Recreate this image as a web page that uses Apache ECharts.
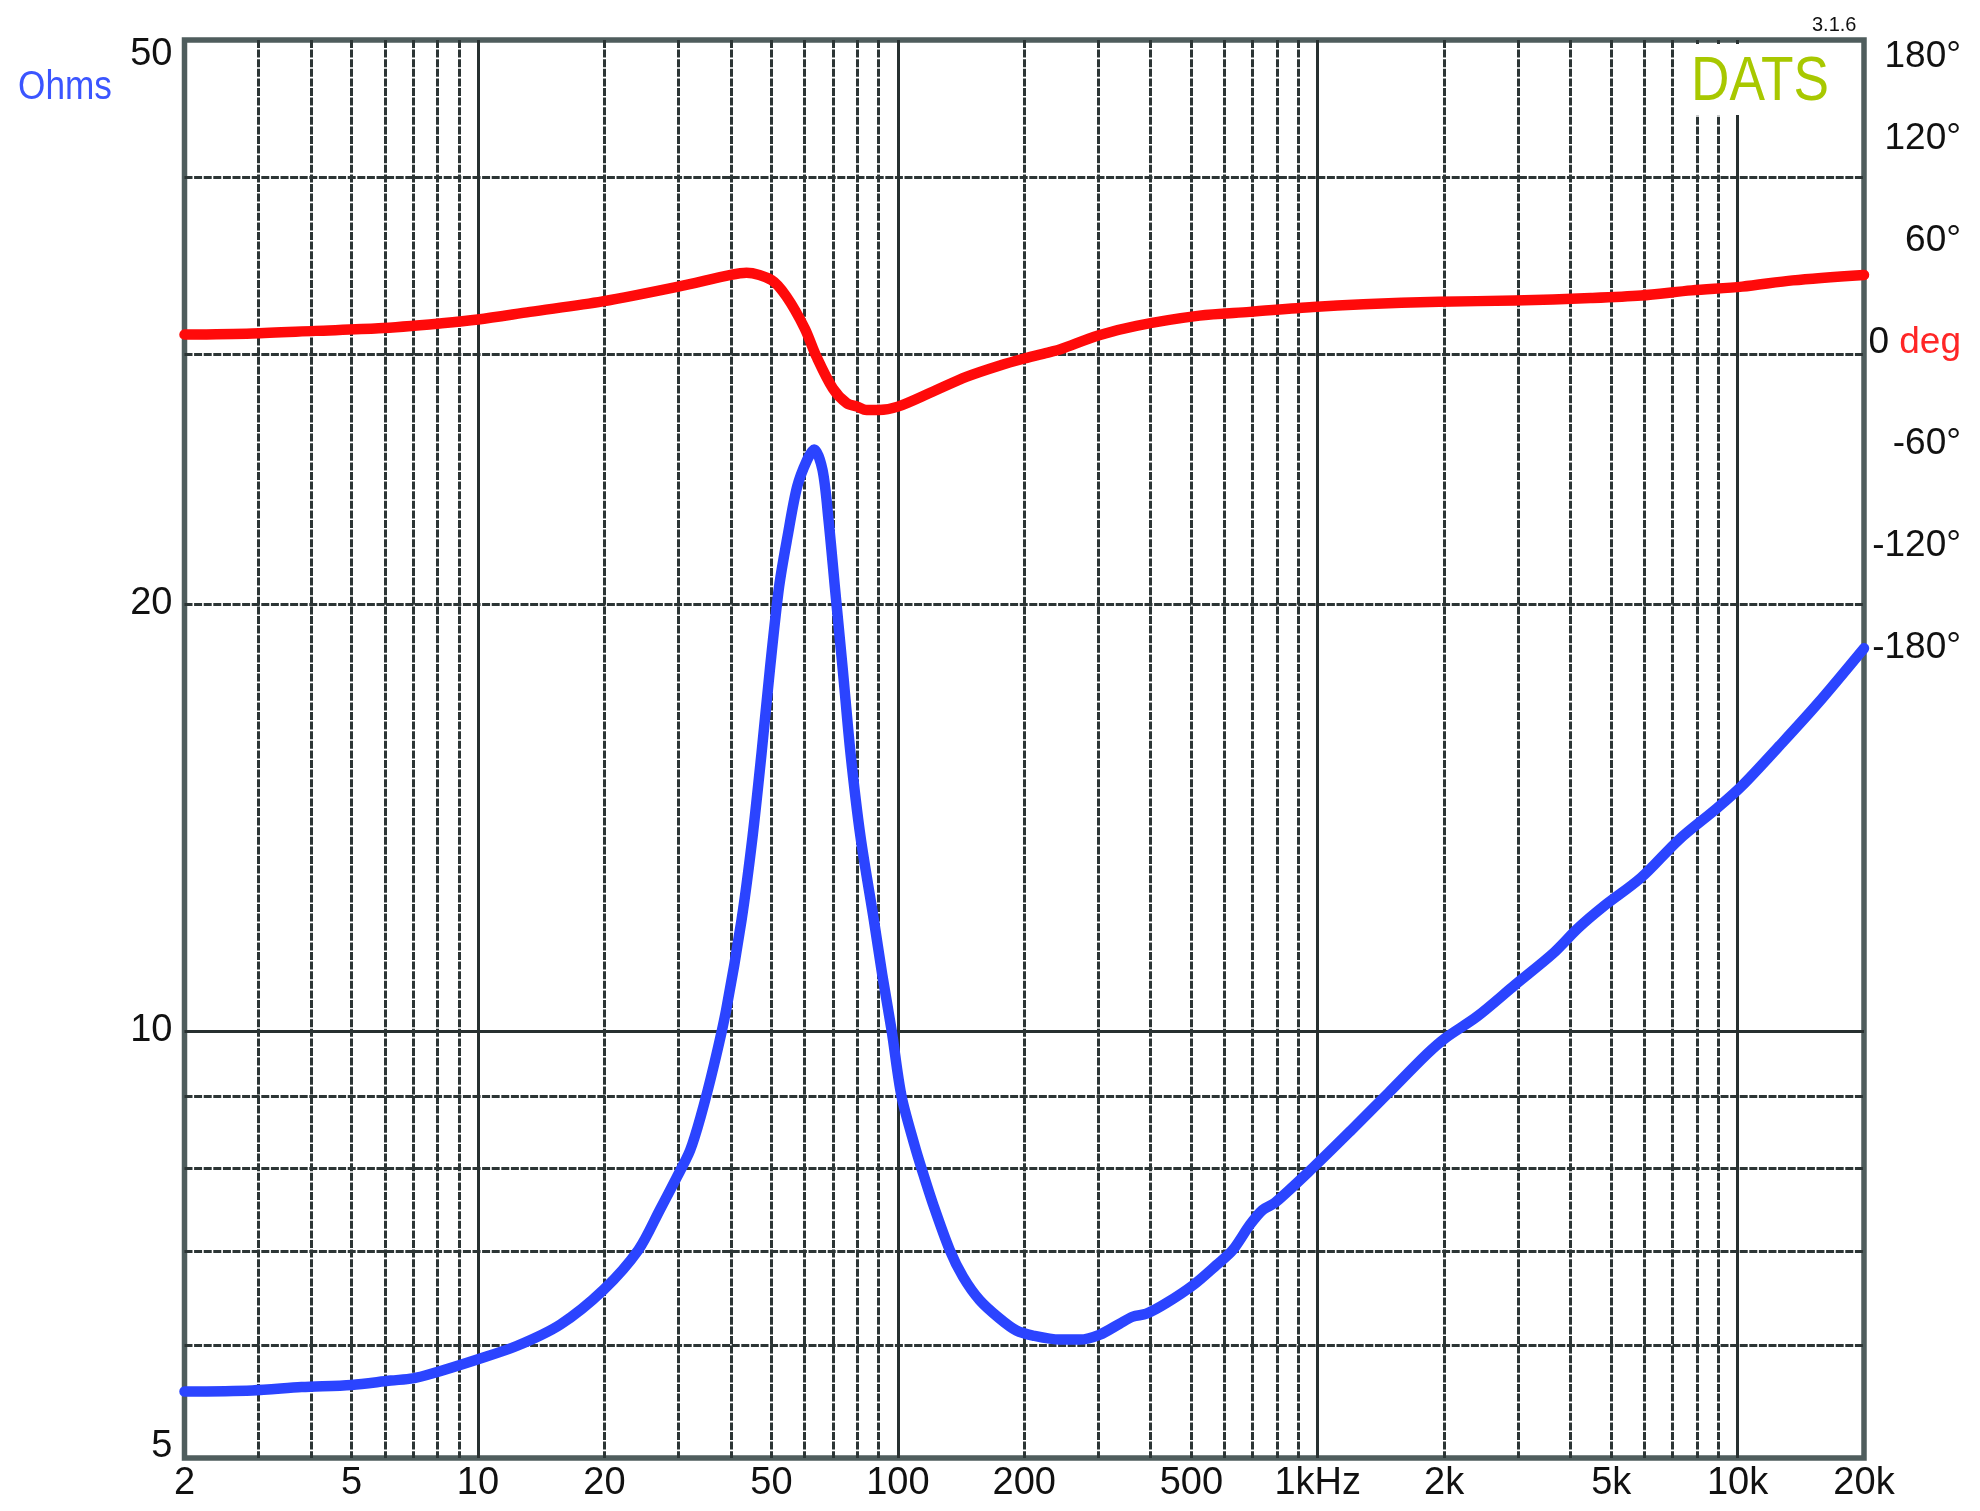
<!DOCTYPE html>
<html><head><meta charset="utf-8">
<script src="https://cdn.jsdelivr.net/npm/echarts@6/dist/echarts.min.js"></script>
<style>html,body{margin:0;padding:0;background:#fff}#c{width:1980px;height:1511px}</style>
</head><body><div id="c"></div>
<script>
// Impedance magnitude (Hz, Ohms)
const impFreq = [2, 2.9, 3.8, 5, 6.2, 7, 7.7, 10, 12.4, 15.7, 19.9, 24.1, 27.1, 29.7, 32, 33.9, 36.4, 39, 42.44, 45.07, 47.35, 49.55, 52.14, 54.6, 57.55, 60.79, 63.19, 66.16, 68.38, 70.78, 73.95, 77.14, 81.48, 87.66, 91.8, 96.7, 102, 109.7, 113.9, 121.3, 132.9, 143, 156.7, 174.9, 191.6, 209.8, 243, 271, 303, 338, 363, 391, 436, 505, 574, 628, 689, 739, 792, 974, 1200, 1476, 1817, 2015, 2396, 2950, 3630, 4169, 4786, 5891, 7254, 8929, 10258, 12620, 15535, 20000];
const impOhms = [5.57, 5.58, 5.61, 5.63, 5.67, 5.69, 5.73, 5.87, 6.00, 6.21, 6.57, 7.01, 7.48, 7.88, 8.24, 8.70, 9.44, 10.35, 11.98, 13.71, 15.70, 17.97, 20.58, 22.32, 24.20, 25.28, 25.72, 24.87, 22.93, 20.58, 17.97, 15.70, 13.71, 11.98, 10.96, 10.0, 9.0, 8.3, 8.0, 7.55, 7.01, 6.71, 6.46, 6.27, 6.15, 6.10, 6.06, 6.06, 6.11, 6.22, 6.29, 6.32, 6.43, 6.62, 6.84, 7.01, 7.30, 7.48, 7.57, 8.01, 8.51, 9.05, 9.63, 9.89, 10.24, 10.78, 11.34, 11.82, 12.24, 12.83, 13.65, 14.36, 14.90, 15.91, 17.03, 18.62];
// Impedance phase (Hz, degrees)
const phFreq = [2, 2.9, 4.1, 5.8, 8.2, 10, 13.3, 19.8, 30, 40, 43.6, 50, 54.3, 60, 64, 70, 75.6, 80, 84.2, 90, 100, 121, 146, 175, 200, 230, 244, 300, 370, 523, 689, 974, 1285, 1946, 2950, 4467, 5891, 7773, 10258, 13530, 20000];
const phDeg = [2.3, 3.0, 4.5, 6.0, 9.0, 11.2, 15.7, 21.9, 30.6, 37.5, 38.8, 34.5, 24.7, 6.0, -10.7, -29.4, -38.2, -40.2, -42.2, -42.2, -40.2, -31.4, -22.5, -15.9, -11.8, -8.0, -6.3, 1.8, 7.5, 13.5, 15.7, 18.6, 20.2, 21.7, 22.4, 23.9, 25.4, 28.4, 30.6, 34.3, 37.5];
// Ticks
const freqTickValues = [2, 5, 10, 20, 50, 100, 200, 500, 1000, 2000, 5000, 10000, 20000];
const freqTickLabels = ['2', '5', '10', '20', '50', '100', '200', '500', '1kHz', '2k', '5k', '10k', '20k'];
const freqMinor = [3, 4, 5, 6, 7, 8, 9, 20, 30, 40, 50, 60, 70, 80, 90, 200, 300, 400, 500, 600, 700, 800, 900, 2000, 3000, 4000, 5000, 6000, 7000, 8000, 9000];
const freqMajor = [10, 100, 1000, 10000];
const ohmTickValues = [5, 10, 20, 50];
const ohmMinor = [6, 7, 8, 9, 20, 30, 40];
const ohmMajor = [10];
const phaseMin = -180, phaseMax = 180, phaseStep = 60;

const L = Math.log10;
const FONT = '"Liberation Sans", Arial, sans-serif';
const GL = 184.5, GT = 40, GW = 1679.5, GH = 1418;
const PT = 33.4, PH = 610.2;
const near = (a, b) => Math.abs(a - b) < 1e-6;
const dashStyle = {color: '#2c3535', width: 3, type: [8, 1.6]};
const solidStyle = {color: '#283030', width: 3, type: 'solid'};

const chart = echarts.init(document.getElementById('c'), null, {renderer: 'canvas'});
chart.setOption({
  animation: false,
  backgroundColor: '#ffffff',
  grid: [
    {left: GL, top: GT, width: GW, height: GH, show: true, borderColor: '#4f5d5d', borderWidth: 5.5, backgroundColor: 'transparent', outerBoundsMode: 'none', containLabel: false},
    {left: GL, top: PT, width: GW, height: PH, show: false, outerBoundsMode: 'none', containLabel: false}
  ],
  xAxis: [
    {type: 'value', gridIndex: 0, min: L(2), max: L(20000), position: 'bottom',
     axisLine: {show: false}, axisTick: {show: false, customValues: freqMinor.map(L)},
     splitLine: {show: true, lineStyle: dashStyle},
     axisLabel: {show: true, customValues: freqTickValues.map(L), margin: 7, fontSize: 38, fontFamily: FONT, color: '#111',
       formatter: v => { const i = freqTickValues.findIndex(t => near(L(t), v)); return i >= 0 ? freqTickLabels[i] : ''; }}},
    {type: 'value', gridIndex: 0, min: L(2), max: L(20000), position: 'top',
     axisLine: {show: false}, axisTick: {show: false, customValues: freqMajor.map(L)}, axisLabel: {show: false},
     splitLine: {show: true, lineStyle: solidStyle}},
    {type: 'value', gridIndex: 1, min: L(2), max: L(20000), show: false}
  ],
  yAxis: [
    {type: 'value', gridIndex: 0, min: L(5), max: L(50), position: 'left',
     axisLine: {show: false}, axisTick: {show: false, customValues: ohmMinor.map(L)},
     splitLine: {show: true, lineStyle: dashStyle},
     axisLabel: {show: true, customValues: ohmTickValues.map(L), margin: 12, fontSize: 38, fontFamily: FONT, color: '#111',
       formatter: v => {
         const i = ohmTickValues.findIndex(t => near(L(t), v));
         if (i < 0) return '';
         if (i === 0) return '{lo|' + ohmTickValues[i] + '}';
         if (i === ohmTickValues.length - 1) return '{hi|' + ohmTickValues[i] + '}';
         return '{mid|' + ohmTickValues[i] + '}';
       },
       rich: {lo: {padding: [0, 0, 22, 0]}, hi: {padding: [30, 0, 0, 0]}, mid: {padding: [0, 0, 2, 0]}}}},
    {type: 'value', gridIndex: 0, min: L(5), max: L(50), position: 'right',
     axisLine: {show: false}, axisTick: {show: false, customValues: ohmMajor.map(L)}, axisLabel: {show: false},
     splitLine: {show: true, lineStyle: solidStyle}},
    {type: 'value', gridIndex: 1, min: phaseMin, max: phaseMax, interval: phaseStep, position: 'right',
     axisLine: {show: false}, axisTick: {show: false}, splitLine: {show: false},
     axisLabel: {show: true, align: 'right', margin: 97, fontSize: 37, fontFamily: FONT, color: '#111',
       formatter: v => {
         if (v === 0) return '{k|0} {r|deg}';
         if (v === phaseMax) return '{t|' + v + '°}';
         return '{n|' + v + '°}';
       },
       rich: {k: {color: '#111', padding: [8, 0, 0, 0]}, r: {color: '#ff2626', padding: [8, 0, 0, 0]}, n: {padding: [8, 0, 0, 0]}, t: {padding: [46, 0, 0, 0]}}}}
  ],
  graphic: [
    {type: 'text', x: 18, y: 88, z: 20, scaleX: 0.88, style: {text: 'Ohms', fill: '#3b55ff', font: '40px ' + FONT, textAlign: 'left', textVerticalAlign: 'middle', align: 'left', verticalAlign: 'middle'}},
    {type: 'rect', z: 19, shape: {x: 1682, y: 44, width: 179, height: 71}, style: {fill: '#ffffff'}},
    {type: 'text', x: 1691, y: 83, z: 20, scaleX: 0.845, style: {text: 'DATS', fill: '#a8c800', font: '63px ' + FONT, textAlign: 'left', textVerticalAlign: 'middle', align: 'left', verticalAlign: 'middle'}},
    {type: 'text', x: 1812, y: 25, z: 20, style: {text: '3.1.6', fill: '#111', font: '20px ' + FONT, textAlign: 'left', textVerticalAlign: 'middle', align: 'left', verticalAlign: 'middle'}}
  ],
  series: [
    {type: 'line', name: 'Ohms', xAxisIndex: 0, yAxisIndex: 0, showSymbol: false, smooth: 0.3, z: 3,
     lineStyle: {color: '#2b44ff', width: 10.5, cap: 'round', join: 'round'},
     data: impFreq.map((f, i) => [L(f), L(impOhms[i])])},
    {type: 'line', name: 'deg', xAxisIndex: 2, yAxisIndex: 2, showSymbol: false, smooth: 0.3, z: 4,
     lineStyle: {color: '#ff0a0a', width: 10.5, cap: 'round', join: 'round'},
     data: phFreq.map((f, i) => [L(f), phDeg[i]])}
  ]
});
</script></body></html>
